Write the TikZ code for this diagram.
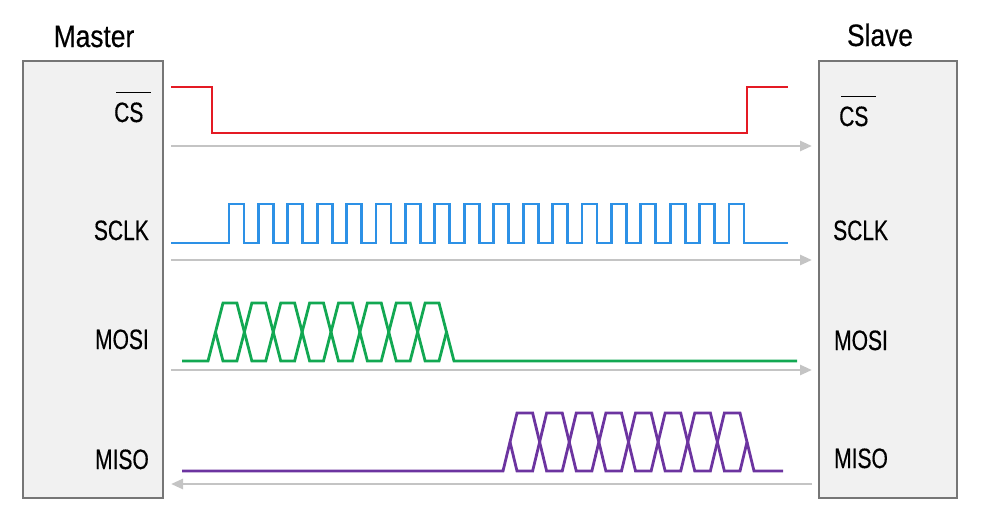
\documentclass[tikz,border=0pt]{standalone}
\usepackage{fontspec}
\setmainfont{Liberation Sans}[FakeStretch=0.75,FakeBold=0.4]
\newfontfamily\headfont{Liberation Sans}[FakeStretch=0.85,FakeBold=0.4]
\usepackage{tikz}
\usetikzlibrary{arrows.meta}
\definecolor{csred}{RGB}{228,26,36}
\definecolor{clkblue}{RGB}{45,145,230}
\definecolor{mosigreen}{RGB}{18,168,82}
\definecolor{misopurple}{RGB}{108,52,160}
\definecolor{busgray}{RGB}{196,196,196}
\definecolor{boxgray}{RGB}{118,118,118}
\definecolor{boxfill}{RGB}{241,241,241}
\newcommand{\notcs}{\rlap{\hspace{2pt}\rule[1.03em]{1.25em}{1.6pt}}CS}

\begin{document}
\begin{tikzpicture}[x=1pt,y=-1pt]
\useasboundingbox (0,0) rectangle (988,520);
\tikzstyle{unit}=[rectangle, draw=boxgray, fill=boxfill, line width=1.5pt,
    minimum height=437pt]
\tikzstyle{title}=[anchor=base, inner sep=0pt, font=\headfont\fontsize{31}{33}\selectfont]
\tikzstyle{sig}=[inner sep=0pt, font=\fontsize{28}{30}\selectfont]
\tikzstyle{wave}=[line width=2.8pt]
\tikzstyle{bus}=[draw=busgray, line width=2.6pt, -{Triangle[length=12pt,width=10pt]}]

% master and slave
\node[unit, minimum width=140pt] (master) at (93,279.5) {};
\node[unit, minimum width=138pt] (slave) at (888,279.5) {};
\node[title] (mtitle) at (94,47) {Master};
\node[title] (stitle) at (880,46) {Slave};

% signal names
\node[sig, anchor=base west] (mcs) at (114,122) {\notcs};
\node[sig, anchor=base east] (msclk) at (149,240) {SCLK};
\node[sig, anchor=base east] (mmosi) at (149,349) {MOSI};
\node[sig, anchor=base east] (mmiso) at (149,469) {MISO};
\node[sig, anchor=base west] (scs) at (839,126) {\notcs};
\node[sig, anchor=base west] (ssclk) at (833,240) {SCLK};
\node[sig, anchor=base west] (smosi) at (834,350) {MOSI};
\node[sig, anchor=base west] (smiso) at (834,468) {MISO};

% bus ends
\coordinate (cs1) at (171,146);
\coordinate (cs2) at (812,146);
\coordinate (clk1) at (171,260);
\coordinate (clk2) at (812,260);
\coordinate (mosi1) at (171,370);
\coordinate (mosi2) at (812,370);
\coordinate (miso1) at (171,484);
\coordinate (miso2) at (812,484);

\draw[bus] (cs1) -- (cs2);
\draw[bus] (clk1) -- (clk2);
\draw[bus] (mosi1) -- (mosi2);
\draw[bus] (miso2) -- (miso1);

% chip select
\draw[wave, csred] (171,87) -- (212,87) -- (212,133) -- (747,133) -- (747,87) -- (788,87);

% clock
\draw[wave, clkblue] (171,243)
  \foreach \k in {0,...,17} { -- ({229+29.41*\k},243) -- ++(0,-39) -- ++(15,0) -- ++(0,39) }
  -- (788,243);

% mosi
\draw[wave, mosigreen] (182,361) -- (208,361) -- (223,303)
  \foreach \k [evaluate=\k as \x using 208+28.875*\k,
      evaluate=\k as \ya using {isodd(\k) ? 303 : 361},
      evaluate=\k as \yb using {isodd(\k) ? 361 : 303}] in {1,...,7}
    { -- (\x,\ya) -- (\x+15,\yb) }
  -- (439,361) -- (446.5,332);
\draw[wave, mosigreen] (215.5,332) -- (223,361)
  \foreach \k [evaluate=\k as \x using 208+28.875*\k,
      evaluate=\k as \ya using {isodd(\k) ? 361 : 303},
      evaluate=\k as \yb using {isodd(\k) ? 303 : 361}] in {1,...,7}
    { -- (\x,\ya) -- (\x+15,\yb) }
  -- (439,303) -- (454,361) -- (797,361);

% miso
\draw[wave, misopurple] (182,471) -- (503,471) -- (517,413)
  \foreach \k [evaluate=\k as \x using 503+29.625*\k,
      evaluate=\k as \ya using {isodd(\k) ? 413 : 471},
      evaluate=\k as \yb using {isodd(\k) ? 471 : 413}] in {1,...,7}
    { -- (\x,\ya) -- (\x+14,\yb) }
  -- (740,471) -- (747,442);
\draw[wave, misopurple] (510,442) -- (517,471)
  \foreach \k [evaluate=\k as \x using 503+29.625*\k,
      evaluate=\k as \ya using {isodd(\k) ? 471 : 413},
      evaluate=\k as \yb using {isodd(\k) ? 413 : 471}] in {1,...,7}
    { -- (\x,\ya) -- (\x+14,\yb) }
  -- (740,413) -- (754,471) -- (783,471);
\end{tikzpicture}
\end{document}
